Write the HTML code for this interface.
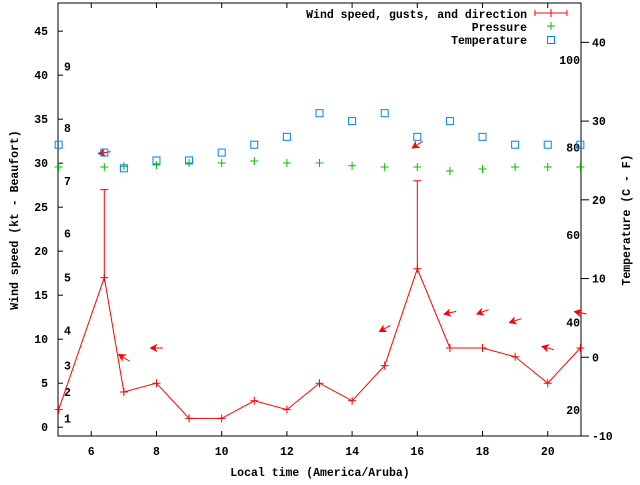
<!DOCTYPE html>
<html><head><meta charset="utf-8"><style>
html,body{margin:0;padding:0;background:#fff}
svg text{font-family:"Liberation Mono",monospace;font-weight:bold;font-size:11.5px;fill:#000}
</style></head><body>
<svg id="chart" width="640" height="480" xmlns="http://www.w3.org/2000/svg"></svg>
<script>
const times=[5,6.4,7,8,9,10,11,12,13,14,15,16,17,18,19,20,21];
const windSpeed=[2,17,4,5,1,1,3,2,5,3,7,18,9,9,8,5,9];
const gustTimes=[6.4,16];
const gustSpeed=[27,28];
const gustBase=[17,18];
const pressure=[1012.0,1012.0,1012.2,1012.5,1013.0,1013.0,1013.5,1013.0,1013.0,1012.3,1012.0,1012.0,1011.0,1011.5,1012.0,1012.0,1012.0];
const temperature=[27,26,24,25,25,26,27,28,31,30,31,28,30,28,27,27,27];
const arrowTimes=[6.4,7,8,15,16,17,18,19,20,21];
const arrowLevel=[31.2,7.9,9.0,11.2,32.1,13.0,13.1,12.1,9.0,13.0];
const arrowFrom=[81,121,90,61,57,77,70,72,105,101];
const xTicks=[6,8,10,12,14,16,18,20];
const yTicks=[0,5,10,15,20,25,30,35,40,45];
const tTicks=[-10,0,10,20,30,40];
const fTicks=[20,40,60,80,100];
const beaufortLevels=[1,4,7,11,17,22,28,34,41];
const beaufortLabels=['1','2','3','4','5','6','7','8','9'];

const L=58,R=581,T=3,B=436;
const X=h=>L+(h-4.98)*(R-L)/16.04;
const Y=k=>B-(k+1)*(B-T)/49.2;
const TY=c=>B-(c+10)*(B-T)/55;
const PY=p=>167-(p-1012)*4;
const svg=document.getElementById('chart');
const NS='http://www.w3.org/2000/svg';
function mk(tag,attrs,name,text){const e=document.createElementNS(NS,tag);for(const k in attrs)e.setAttribute(k,attrs[k]);


if(text!==undefined)e.textContent=text;svg.appendChild(e);return e;}

mk('rect',{x:L,y:T,width:R-L,height:B-T,fill:'none',stroke:'#000','stroke-width':1},'plot-frame');
xTicks.forEach(t=>{const x=X(t);
mk('line',{x1:x,y1:B,x2:x,y2:B-5,stroke:'#000'},'x-tick');
mk('line',{x1:x,y1:T,x2:x,y2:T+5,stroke:'#000'},'x-tick-top');
mk('text',{x:x,y:B+19,'text-anchor':'middle'},'x-tick-label',String(t));});
yTicks.forEach(v=>{const y=Y(v);
mk('line',{x1:L,y1:y,x2:L+5,y2:y,stroke:'#000'},'y-tick');
mk('text',{x:48,y:y+4,'text-anchor':'end'},'y-tick-label',String(v));});
tTicks.forEach(v=>{const y=TY(v);
mk('line',{x1:R,y1:y,x2:R+8,y2:y,stroke:'#000'},'temp-tick');
mk('text',{x:592,y:y+4},'temp-tick-label',String(v));});
fTicks.forEach(v=>{const y=TY((v-32)*5/9);
mk('text',{x:580,y:y+4,'text-anchor':'end'},'fahrenheit-label',String(v));});
beaufortLevels.forEach((v,i)=>{
mk('text',{x:64,y:Y(v)+4},'beaufort-label',beaufortLabels[i]);});

mk('text',{x:320,y:476,'text-anchor':'middle'},'x-axis-title','Local time (America/Aruba)');
mk('text',{x:0,y:0,'text-anchor':'middle',transform:'translate(18,220) rotate(-90)'},'y-axis-title','Wind speed (kt - Beaufort)');
mk('text',{x:0,y:0,'text-anchor':'middle',transform:'translate(630,220) rotate(-90)'},'y2-axis-title','Temperature (C - F)');

mk('polyline',{points:times.map((t,i)=>X(t)+','+Y(windSpeed[i])).join(' '),fill:'none',stroke:'#f00','stroke-width':1},'wind-speed-line');
times.forEach((t,i)=>{const x=X(t),y=Y(windSpeed[i]);
mk('path',{d:`M${x-4},${y}h8M${x},${y-4}v8`,stroke:'#f00'},'wind-point');});
gustTimes.forEach((t,i)=>{const x=X(t);
mk('path',{d:`M${x},${Y(gustBase[i])}V${Y(gustSpeed[i])}M${x-4},${Y(gustSpeed[i])}h8`,stroke:'#f00'},'gust-bar');});
arrowTimes.forEach((t,i)=>{const cx=X(t),cy=Y(arrowLevel[i]);const f=arrowFrom[i]*Math.PI/180;
const dx=-Math.sin(f),dy=Math.cos(f);const hx=cx+dx*6.5,hy=cy+dy*6.5,tx=cx-dx*6.5,ty=cy-dy*6.5;
const px=-dy,py=dx;const bx=hx-dx*7,by=hy-dy*7;
mk('line',{x1:tx,y1:ty,x2:hx,y2:hy,stroke:'#f00'},'wind-direction-arrow');
mk('polygon',{points:`${hx},${hy} ${bx+px*3.8},${by+py*3.8} ${bx+dx*2},${by+dy*2} ${bx-px*3.8},${by-py*3.8}`,fill:'#f00',stroke:'#f00','stroke-width':0.5},'wind-direction-arrowhead');});
times.forEach((t,i)=>{const x=X(t),y=PY(pressure[i]);
mk('path',{d:`M${x-4},${y}h8M${x},${y-4}v8`,stroke:'#00c000'},'pressure-point');});
times.forEach((t,i)=>{const x=X(t),y=TY(temperature[i]);
mk('rect',{x:x-3.5,y:y-3.5,width:7,height:7,fill:'none',stroke:'#0080ff'},'temperature-point');});
mk('text',{x:527,y:18,'text-anchor':'end'},'legend-wind-label','Wind speed, gusts, and direction');
mk('path',{d:'M535,13h32M535,10v6M567,10v6M551,9v8',stroke:'#f00'},'legend-wind-sample');
mk('text',{x:527,y:31,'text-anchor':'end'},'legend-pressure-label','Pressure');
mk('path',{d:'M547,26h8M551,22v8',stroke:'#00c000'},'legend-pressure-sample');
mk('text',{x:527,y:44,'text-anchor':'end'},'legend-temperature-label','Temperature');
mk('rect',{x:547.5,y:36.5,width:7,height:7,fill:'none',stroke:'#0080ff'},'legend-temperature-sample');
</script>
</body></html>
